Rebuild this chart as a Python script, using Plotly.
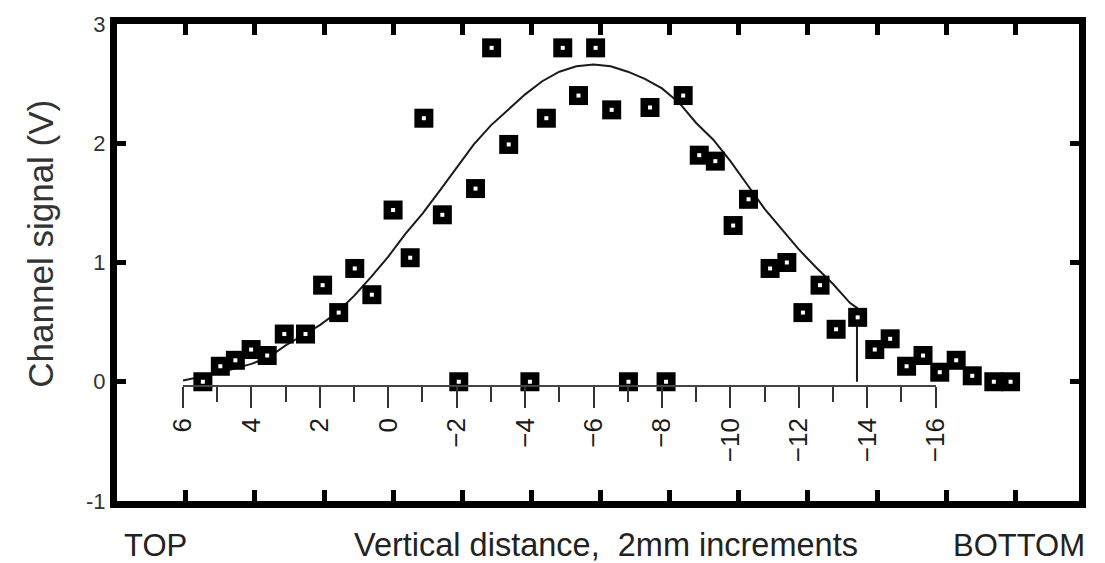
import plotly.graph_objects as go

# ---------------- data ----------------
# smooth fitted curve (ends with a vertical drop to the baseline)
fit_x = [6, 5, 4.5, 4, 3.5, 3, 2.5, 2, 1.5, 1, 0.5, 0, -0.5, -1, -1.5, -2, -2.5,
         -3, -3.5, -4, -4.5, -5, -5.5, -6, -6.5, -7, -7.5, -8, -8.5, -9, -9.5,
         -10, -10.5, -11, -11.5, -12, -12.5, -13, -13.5, -13.7, -13.7]
fit_y = [0.01, 0.07, 0.11, 0.15, 0.205, 0.305, 0.39, 0.475, 0.58, 0.72, 0.88,
         1.05, 1.24, 1.41, 1.60, 1.80, 1.99, 2.15, 2.28, 2.41, 2.52, 2.60, 2.645,
         2.66, 2.645, 2.60, 2.54, 2.46, 2.34, 2.17, 2.03, 1.85, 1.65, 1.45, 1.28,
         1.11, 0.96, 0.82, 0.66, 0.62, 0.0]

# measured channel signal (square markers)
pos_x = [5.42, 4.91, 4.47, 4.01, 3.54, 3.04, 2.42, 1.92, 1.45, 0.98, 0.48,
         -0.14, -0.64, -1.04, -1.58, -2.06, -2.55, -3.02, -3.52, -4.14, -4.62,
         -5.10, -5.56, -6.06, -6.53, -7.02, -7.65, -8.12, -8.62, -9.09, -9.56,
         -10.08, -10.53, -11.16, -11.65, -12.12, -12.62, -13.09, -13.72, -14.22,
         -14.67, -15.15, -15.63, -16.12, -16.60, -17.07, -17.70, -18.19]
signal_v = [0.0, 0.13, 0.18, 0.27, 0.22, 0.40, 0.40, 0.81, 0.58, 0.95, 0.73,
            1.44, 1.04, 2.21, 1.40, 0.0, 1.62, 2.80, 1.99, 0.0, 2.21,
            2.80, 2.40, 2.80, 2.28, 0.0, 2.30, 0.0, 2.40, 1.90, 1.85,
            1.31, 1.53, 0.95, 1.00, 0.58, 0.81, 0.44, 0.54, 0.27,
            0.36, 0.13, 0.22, 0.08, 0.18, 0.05, 0.0, 0.0]

y_ticks = [-1, 0, 1, 2, 3]
frame_ticks = [6, 4, 2, 0, -2, -4, -6, -8, -10, -12, -14, -16, -18]
inner_ticks = [6, 4, 2, 0, -2, -4, -6, -8, -10, -12, -14, -16]
inner_labels = ["6", "4", "2", "0", "\u22122", "\u22124", "\u22126", "\u22128",
                "\u221210", "\u221212", "\u221214", "\u221216"]
inner_minor = [5, 3, 1, -1, -3, -5, -7, -9, -11, -13, -15]

# ---------------- layout constants ----------------
W, H = 1105, 563
ML, MR, MT, MB = 117, 23, 17, 62
DATA_RANGE = [7.93, -20.19]      # data axis
FRAME_RANGE = [7.99, -19.84]     # frame tick axis
INNER_RANGE = [6, -16]           # inner baseline axis
span = DATA_RANGE[0] - DATA_RANGE[1]
inner_domain = [(DATA_RANGE[0] - INNER_RANGE[0]) / span,
                (DATA_RANGE[0] - INNER_RANGE[1]) / span]
baseline_pos = (-0.035 - (-1)) / 4.0

FONT = "Liberation Sans, Arial, Helvetica, sans-serif"

fig = go.Figure()

# helper (invisible) traces so every axis is instantiated
for ax in ["x2", "x3", "x4"]:
    fig.add_trace(go.Scatter(
        x=fit_x, y=fit_y, xaxis=ax, yaxis="y", mode="none",
        hoverinfo="skip", showlegend=False))

fig.add_trace(go.Scatter(
    x=fit_x, y=fit_y, xaxis="x", yaxis="y", mode="lines",
    line=dict(color="#1a1a1a", width=2), hoverinfo="skip", showlegend=False))

fig.add_trace(go.Scatter(
    x=pos_x, y=signal_v, xaxis="x", yaxis="y", mode="markers",
    marker=dict(symbol="square", size=19, color="#000000",
                line=dict(width=0)),
    showlegend=False))
fig.add_trace(go.Scatter(
    x=pos_x, y=signal_v, xaxis="x", yaxis="y", mode="markers",
    marker=dict(symbol="square", size=4, color="#ffffff",
                line=dict(width=0)),
    hoverinfo="skip", showlegend=False))

fig.update_layout(
    width=W, height=H,
    margin=dict(l=ML, r=MR, t=MT, b=MB, pad=0),
    paper_bgcolor="white", plot_bgcolor="rgba(0,0,0,0)",
    font=dict(family=FONT, color="#222222"),
    xaxis=dict(
        range=DATA_RANGE, showticklabels=False, ticks="",
        showline=True, linewidth=7, linecolor="black", mirror=True,
        showgrid=False, zeroline=False, anchor="y", domain=[0, 1]),
    xaxis2=dict(
        range=FRAME_RANGE, anchor="y", side="bottom", domain=[0, 1],
        tickmode="array", tickvals=frame_ticks, showticklabels=False,
        ticks="inside", ticklen=11, tickwidth=5, tickcolor="black",
        showline=False, mirror="ticks", showgrid=False, zeroline=False),
    xaxis3=dict(
        range=INNER_RANGE, domain=inner_domain, anchor="free",
        position=baseline_pos, showline=True, linewidth=1.5,
        linecolor="#444444", showgrid=False, zeroline=False,
        tickmode="array", tickvals=inner_ticks, ticktext=inner_labels,
        ticks="outside", ticklen=21, tickwidth=2, tickcolor="#333333",
        tickangle=-90, tickfont=dict(size=26, color="#1a1a1a", family=FONT)),
    xaxis4=dict(
        range=INNER_RANGE, domain=inner_domain, anchor="free",
        position=baseline_pos, showline=False, showgrid=False,
        zeroline=False, tickmode="array", tickvals=inner_minor,
        showticklabels=False, ticks="outside", ticklen=15, tickwidth=2,
        tickcolor="#333333"),
    yaxis=dict(
        range=[-1, 3], tickmode="array", tickvals=y_ticks,
        ticktext=[str(v) for v in y_ticks],
        ticks="inside", ticklen=9, tickwidth=5, tickcolor="black",
        showline=True, linewidth=7, linecolor="black", mirror="ticks",
        showgrid=False, zeroline=False, anchor="x",
        tickfont=dict(size=22, color="#333333", family=FONT)),
    annotations=[
        dict(text="Channel signal (V)", textangle=-90, xref="paper",
             yref="paper", x=(40 - ML) / (W - ML - MR), y=0.54,
             xanchor="center", yanchor="middle", showarrow=False,
             font=dict(size=35, color="#333333", family=FONT)),
        dict(text="TOP", xref="paper", yref="paper",
             x=(156 - ML) / (W - ML - MR), y=(H - MB - 546) / (H - MT - MB),
             xanchor="center", yanchor="middle", showarrow=False,
             font=dict(size=31, color="#222222", family=FONT)),
        dict(text="Vertical distance,\u00a0 2mm increments", xref="paper",
             yref="paper", x=(608 - ML) / (W - ML - MR),
             y=(H - MB - 546) / (H - MT - MB),
             xanchor="center", yanchor="middle", showarrow=False,
             font=dict(size=32.5, color="#222222", family=FONT)),
        dict(text="BOTTOM", xref="paper", yref="paper",
             x=(1022 - ML) / (W - ML - MR), y=(H - MB - 546) / (H - MT - MB),
             xanchor="center", yanchor="middle", showarrow=False,
             font=dict(size=31, color="#222222", family=FONT)),
    ],
)

fig.write_html("out.html")
